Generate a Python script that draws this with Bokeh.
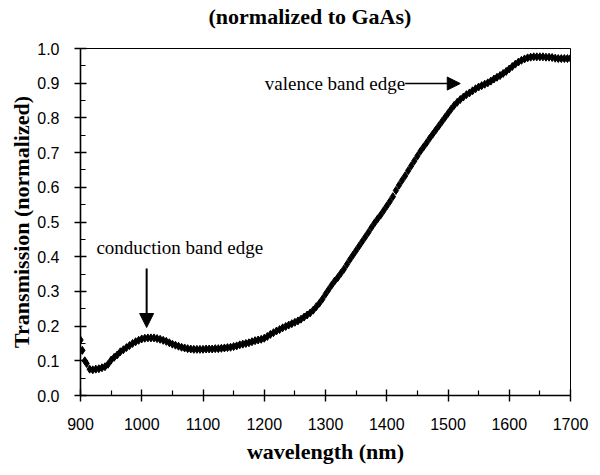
from bokeh.plotting import figure
from bokeh.models import Range1d, FixedTicker, PrintfTickFormatter, Arrow, NormalHead, Label, Title
from bokeh.embed import file_html
from bokeh.resources import INLINE

wavelength = [900, 903, 907, 910, 915, 920, 925, 930, 935, 940, 945, 950, 955, 960, 965, 970, 975, 980,
              985, 990, 995, 1000, 1005, 1010, 1015, 1020, 1025, 1030, 1035, 1040, 1045, 1050, 1055,
              1060, 1065, 1070, 1075, 1080, 1085, 1090, 1095, 1100, 1105, 1110, 1115, 1120, 1125, 1130,
              1135, 1140, 1145, 1150, 1155, 1160, 1165, 1170, 1175, 1180, 1185, 1190, 1195, 1200, 1205,
              1210, 1215, 1220, 1225, 1230, 1235, 1240, 1245, 1250, 1255, 1260, 1265, 1270, 1275, 1280,
              1285, 1290, 1295, 1300, 1305, 1310, 1315, 1320, 1325, 1330, 1335, 1340, 1345, 1350, 1355,
              1360, 1365, 1370, 1375, 1380, 1385, 1390, 1395, 1400, 1405, 1410, 1415, 1420, 1425, 1430,
              1435, 1440, 1445, 1450, 1455, 1460, 1465, 1470, 1475, 1480, 1485, 1490, 1495, 1500, 1505,
              1510, 1515, 1520, 1525, 1530, 1535, 1540, 1545, 1550, 1555, 1560, 1565, 1570, 1575, 1580,
              1585, 1590, 1595, 1600, 1605, 1610, 1615, 1620, 1625, 1630, 1635, 1640, 1645, 1650, 1655,
              1660, 1665, 1670, 1675, 1680, 1685, 1690, 1695, 1700]
transmission = [0.160, 0.130, 0.100, 0.092, 0.076, 0.074, 0.076, 0.077, 0.080, 0.083, 0.090, 0.102,
                0.110, 0.117, 0.126, 0.132, 0.138, 0.144, 0.150, 0.155, 0.159, 0.163, 0.165, 0.166,
                0.166, 0.166, 0.164, 0.162, 0.159, 0.156, 0.152, 0.148, 0.145, 0.142, 0.139, 0.137,
                0.135, 0.134, 0.133, 0.133, 0.133, 0.133, 0.134, 0.134, 0.134, 0.135, 0.135, 0.136,
                0.137, 0.138, 0.139, 0.141, 0.143, 0.146, 0.148, 0.150, 0.152, 0.155, 0.158, 0.160,
                0.162, 0.165, 0.170, 0.176, 0.181, 0.186, 0.190, 0.195, 0.199, 0.203, 0.207, 0.211,
                0.215, 0.220, 0.226, 0.232, 0.238, 0.246, 0.256, 0.266, 0.278, 0.292, 0.305, 0.318,
                0.330, 0.340, 0.352, 0.364, 0.378, 0.392, 0.405, 0.418, 0.431, 0.444, 0.457, 0.470,
                0.484, 0.497, 0.509, 0.520, 0.533, 0.546, 0.559, 0.573, 0.591, 0.606, 0.620, 0.633,
                0.648, 0.662, 0.676, 0.690, 0.704, 0.716, 0.728, 0.741, 0.753, 0.765, 0.777, 0.789,
                0.801, 0.813, 0.825, 0.836, 0.845, 0.853, 0.860, 0.867, 0.872, 0.878, 0.884, 0.889,
                0.893, 0.897, 0.901, 0.906, 0.912, 0.917, 0.922, 0.928, 0.934, 0.941, 0.948, 0.955,
                0.961, 0.966, 0.970, 0.973, 0.975, 0.976, 0.976, 0.976, 0.976, 0.975, 0.975, 0.974,
                0.972, 0.971, 0.971, 0.971, 0.971, 0.972]

x_major = [900, 1000, 1100, 1200, 1300, 1400, 1500, 1600, 1700]
x_minor = [950, 1050, 1150, 1250, 1350, 1450, 1550, 1650]
y_major = [0.0, 0.1, 0.2, 0.3, 0.4, 0.5, 0.6, 0.7, 0.8, 0.9, 1.0]
y_minor = [0.05, 0.15, 0.25, 0.35, 0.45, 0.55, 0.65, 0.75, 0.85, 0.95]

title_text = "(normalized to GaAs)"
x_label = "wavelength (nm)"
y_label = "Transmission (normalized)"
cb_text = "conduction band edge"
vb_text = "valence band edge"
cb_pos = (926, 0.426)
cb_arrow = (1008, 0.366, 0.196)
vb_arrow = (1430, 1520, 0.899)

p = figure(frame_width=490, frame_height=347, output_backend="svg", toolbar_location=None,
           x_range=Range1d(900, 1700), y_range=Range1d(0, 1.0),
           min_border_left=80, min_border_right=22, min_border_top=48, min_border_bottom=72)
p.background_fill_color = "white"
p.border_fill_color = "white"
p.outline_line_color = "black"
p.outline_line_width = 1
p.xgrid.visible = False
p.ygrid.visible = False

p.title.text = title_text
p.title.text_font = "Liberation Serif"
p.title.text_font_style = "bold"
p.title.text_font_size = "22px"
p.title.text_color = "black"
p.title.align = "left"
p.title.offset = 128
p.title.vertical_align = "top"
p.title.standoff = 6
spacer = Title(text=" ", text_font_size="1px", standoff=12)
p.add_layout(spacer, "above")

p.xaxis.ticker = FixedTicker(ticks=x_major, minor_ticks=x_minor)
p.yaxis.ticker = FixedTicker(ticks=y_major, minor_ticks=y_minor)
p.yaxis.formatter = PrintfTickFormatter(format="%.1f")
for ax in (p.xaxis, p.yaxis):
    ax.axis_line_color = "black"
    ax.axis_line_width = 1.6
    ax.major_tick_line_color = "black"
    ax.major_tick_line_width = 1.4
    ax.minor_tick_line_color = "black"
    ax.minor_tick_line_width = 1.2
    ax.major_tick_in = 6
    ax.major_tick_out = 6
    ax.minor_tick_in = 5
    ax.minor_tick_out = 0
    ax.major_label_text_font = "Liberation Sans"
    ax.major_label_text_font_size = "16px"
    ax.major_label_text_color = "black"
    ax.axis_label_text_font = "Liberation Serif"
    ax.axis_label_text_font_style = "bold"
    ax.axis_label_text_font_size = "22px"
    ax.axis_label_text_color = "black"
p.xaxis.axis_label = x_label
p.yaxis.axis_label = y_label
p.xaxis.major_label_standoff = 16
p.yaxis.major_label_standoff = 15
p.xaxis.axis_label_standoff = 6
p.yaxis.axis_label_standoff = 0

p.scatter(wavelength, transmission, marker="diamond", size=8, color="black")

p.add_layout(Label(x=cb_pos[0], y=cb_pos[1], text=cb_text, text_font="Liberation Serif",
                   text_font_size="19px", text_baseline="middle", text_align="left", text_color="black"))
p.add_layout(Label(x=vb_arrow[0], y=vb_arrow[2], text=vb_text, text_font="Liberation Serif",
                   text_font_size="19px", text_baseline="middle", text_align="right", text_color="black"))
p.add_layout(Arrow(x_start=cb_arrow[0], y_start=cb_arrow[1], x_end=cb_arrow[0], y_end=cb_arrow[2],
                   line_width=2, line_color="black",
                   end=NormalHead(size=14, fill_color="black", line_color="black")))
p.add_layout(Arrow(x_start=vb_arrow[0], y_start=vb_arrow[2], x_end=vb_arrow[1], y_end=vb_arrow[2],
                   line_width=1.5, line_color="black",
                   end=NormalHead(size=13, fill_color="black", line_color="black")))

open("out.html", "w").write(file_html(p, INLINE))
